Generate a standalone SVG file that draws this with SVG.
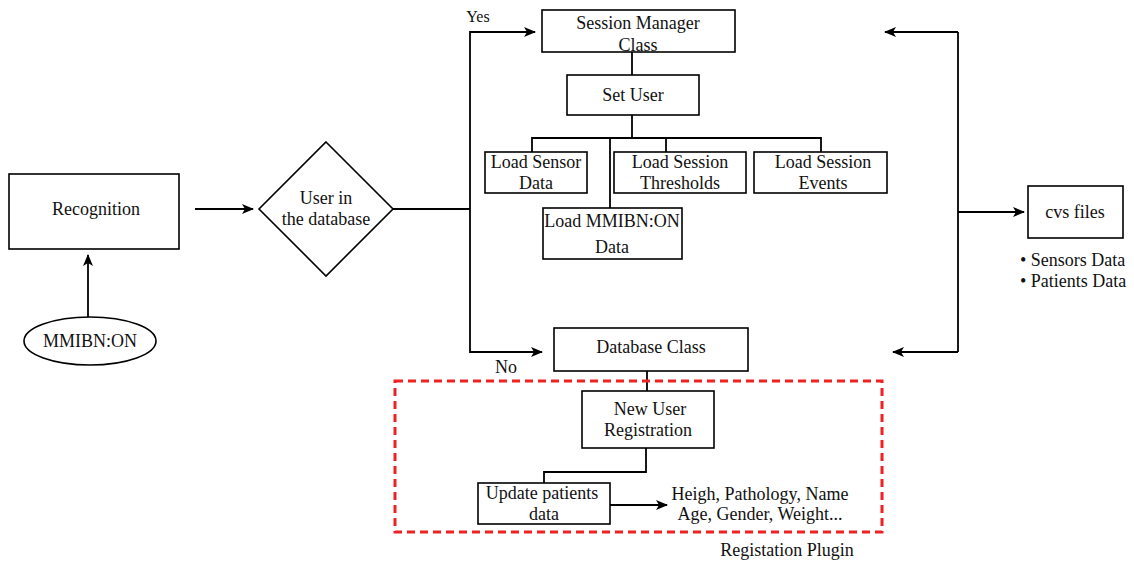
<svg xmlns="http://www.w3.org/2000/svg" width="1134" height="566" viewBox="0 0 1134 566">
  <style>
    .box { fill: #ffffff; stroke: #000000; stroke-width: 1.6; }
    .line { fill: none; stroke: #000000; stroke-width: 1.8; }
    .arrow { fill: none; stroke: #000000; stroke-width: 1.8; marker-end: url(#head); }
    .plugin { fill: none; stroke: #ee2222; stroke-width: 3; stroke-dasharray: 8 5; }
    .c { text-anchor: middle; }
  </style>
  <defs>
    <marker id="head" viewBox="0 0 12 10" refX="11" refY="5" markerWidth="12" markerHeight="10" markerUnits="userSpaceOnUse" orient="auto">
      <path d="M0,0 L12,5 L0,10 L3,5 Z" fill="#000000"/>
    </marker>
  </defs>

  <!-- connectors -->
  <g id="connectors">
    <path class="arrow" d="M88,317 V255"/>
    <path class="arrow" d="M195,209 H253"/>
    <path class="line" d="M393,209 H470"/>
    <path class="arrow" d="M470,209 V32 H535"/>
    <path class="arrow" d="M470,209 V352 H542"/>
    <path class="line" d="M632,52 V75"/>
    <path class="line" d="M632,115 V138"/>
    <path class="line" d="M532,152 V138 H821 V152"/>
    <path class="line" d="M666,138 V152"/>
    <path class="line" d="M610,138 V208"/>
    <path class="line" d="M647,371 V391"/>
    <path class="line" d="M646,448 V472 H544 V483"/>
    <path class="arrow" d="M610,505 H667"/>
    <path class="arrow" d="M958,32 H885"/>
    <path class="line" d="M958,32 V352"/>
    <path class="arrow" d="M958,352 H893"/>
    <path class="arrow" d="M958,212 H1024"/>
  </g>

  <g font-family="Liberation Serif" font-size="18" fill="#111111">
  <!-- registration plugin boundary -->
  <g id="registration-plugin">
    <rect class="plugin" x="395" y="381" width="487" height="151"/>
    <text class="c" x="787" y="556">Registation Plugin</text>
  </g>

  <g id="recognition">
    <rect class="box" x="9" y="174" width="170" height="75"/>
    <text class="c" x="96" y="215">Recognition</text>
  </g>

  <g id="mmibn-on">
    <ellipse class="box" cx="90" cy="341" rx="66" ry="24"/>
    <text class="c" x="90" y="347">MMIBN:ON</text>
  </g>

  <g id="user-in-db">
    <polygon class="box" points="326,142 393,209 326,276 259,209"/>
    <text class="c" x="326" y="204">User in</text>
    <text class="c" x="326" y="225">the database</text>
  </g>

  <g id="labels">
    <text class="c" x="478" y="22" font-size="16">Yes</text>
    <text class="c" x="506" y="373">No</text>
  </g>

  <g id="session-manager">
    <rect class="box" x="542" y="10" width="193" height="42"/>
    <text class="c" x="638" y="29">Session Manager</text>
    <text class="c" x="638" y="51">Class</text>
  </g>

  <g id="set-user">
    <rect class="box" x="567" y="75" width="132" height="40"/>
    <text class="c" x="633" y="101">Set User</text>
  </g>

  <g id="load-sensor">
    <rect class="box" x="485" y="152" width="102" height="41"/>
    <text class="c" x="536" y="168">Load Sensor</text>
    <text class="c" x="536" y="189">Data</text>
  </g>

  <g id="load-thresholds">
    <rect class="box" x="614" y="152" width="132" height="41"/>
    <text class="c" x="680" y="168">Load Session</text>
    <text class="c" x="680" y="189">Thresholds</text>
  </g>

  <g id="load-events">
    <rect class="box" x="754" y="152" width="133" height="41"/>
    <text class="c" x="823" y="168">Load Session</text>
    <text class="c" x="823" y="189">Events</text>
  </g>

  <g id="load-mmibn">
    <rect class="box" x="543" y="208" width="139" height="51"/>
    <text class="c" x="612" y="227">Load MMIBN:ON</text>
    <text class="c" x="612" y="253">Data</text>
  </g>

  <g id="database-class">
    <rect class="box" x="554" y="328" width="194" height="43"/>
    <text class="c" x="651" y="353">Database Class</text>
  </g>

  <g id="new-user">
    <rect class="box" x="582" y="391" width="132" height="57"/>
    <text class="c" x="650" y="415">New User</text>
    <text class="c" x="648" y="436">Registration</text>
  </g>

  <g id="update-patients">
    <rect class="box" x="478" y="483" width="132" height="41"/>
    <text class="c" x="542" y="499">Update patients</text>
    <text class="c" x="544" y="520">data</text>
  </g>

  <g id="patient-fields">
    <text class="c" x="760" y="500">Heigh, Pathology, Name</text>
    <text class="c" x="760" y="520">Age, Gender, Weight...</text>
  </g>

  <g id="cvs-files">
    <rect class="box" x="1028" y="186" width="95" height="52"/>
    <text class="c" x="1075" y="218">cvs files</text>
    <text x="1020" y="266">• Sensors Data</text>
    <text x="1020" y="287">• Patients Data</text>
  </g>
  </g>
</svg>
